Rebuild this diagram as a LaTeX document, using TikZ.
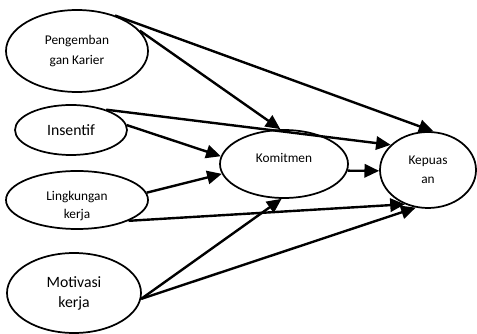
\documentclass[tikz,border=0pt]{standalone}
\usepackage{fontspec}
\setmainfont{Carlito}
\usepackage{tikz}
\usetikzlibrary{arrows.meta}
\usetikzlibrary{shapes.geometric}

\tikzset{
    oval/.style={ellipse, draw, line width=1.3pt, inner sep=0pt, align=center,
        font=\fontsize{10}{14.5}\selectfont},
    bigtext/.style={font=\fontsize{11.8}{15}\selectfont},
    link/.style={line width=1.8pt, -{Triangle[length=11pt, width=10pt]}},
}

\begin{document}
\begin{tikzpicture}[x=0.75pt, y=-0.75pt]
\useasboundingbox (0,0) rectangle (477,334);
    % variables on the left
    \node[oval, minimum width=106.5pt, minimum height=61.5pt] (karier) at (77,51) {Pengemban\\gan Karier};
    \node[oval, bigtext, minimum width=84pt, minimum height=37.5pt] (insentif) at (71,130) {Insentif};
    \node[oval, minimum width=106.5pt, minimum height=43.5pt,
        label={[yshift=-4.5pt, align=center, font=\fontsize{10}{13.5}\selectfont]center:Lingkungan\\kerja}] (lingkungan) at (77,200) {};
    \node[oval, bigtext, minimum width=100.5pt, minimum height=60pt] (motivasi) at (74,293) {Motivasi\\kerja};
    % mediating and outcome variables
    \node[oval, minimum width=96pt, minimum height=51pt,
        label={[yshift=4.5pt, font=\fontsize{10}{14.5}\selectfont]center:Komitmen}] (komitmen) at (284,164) {};
    \node[oval, minimum width=72pt, minimum height=57pt] (kepuasan) at (428,170) {Kepuas\\an};

    \draw[link] (karier.43) to (kepuasan.82);
    \draw[link] (karier.18) to (komitmen.96);
    \draw[link] (insentif.30) to (kepuasan.146);
    \draw[link] (insentif.5) to (komitmen.173);
    \draw[link] (lingkungan.6) to (komitmen.189);
    \draw[link] (lingkungan.-22) to (kepuasan.236);
    \draw[link] (motivasi.-5) to (komitmen.266);
    \draw[link] (motivasi.-5) to (kepuasan.252);
    \draw[link] (komitmen.-6) to (kepuasan.181);
\end{tikzpicture}
\end{document}
